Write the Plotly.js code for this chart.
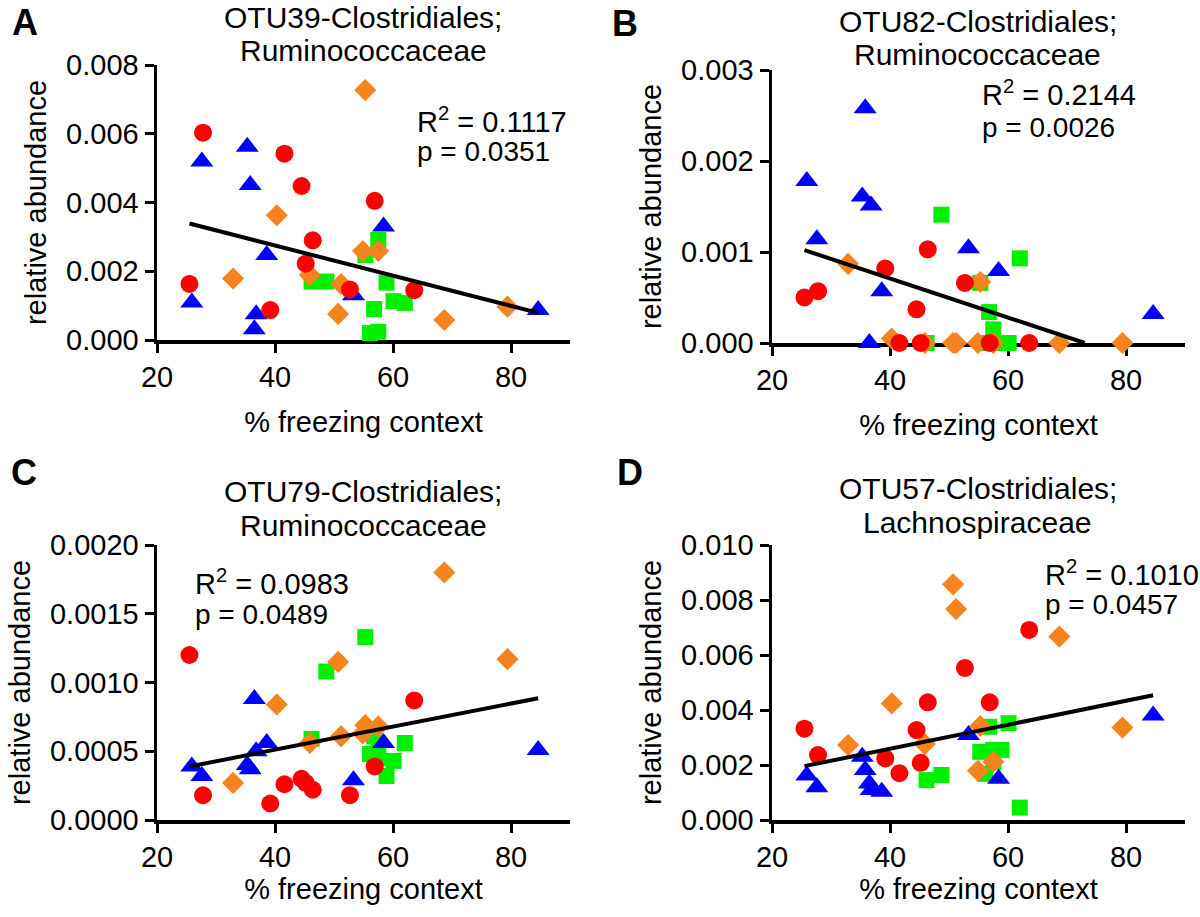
<!DOCTYPE html>
<html>
<head>
<meta charset="utf-8">
<script src="https://cdn.plot.ly/plotly-3.0.1.min.js"></script>
<style>
  html, body { margin: 0; padding: 0; background: #fff; }
  #chart { width: 1200px; height: 917px; }
</style>
</head>
<body>
<div id="chart"></div>
<script>
// % freezing context, one array per group (same mice in every panel)
const xRed = [25.5, 27.8, 39.2, 41.6, 44.5, 45.2, 46.4, 52.7, 56.9, 63.6];
const xBlue = [25.9, 27.6, 35.3, 35.8, 36.5, 36.8, 38.6, 53.3, 58.4, 84.6];
const xOrange = [32.9, 40.3, 45.9, 50.7, 51.2, 54.9, 55.3, 57.5, 68.7, 79.4];
const xGreen = [46.2, 48.7, 55.3, 56.1, 56.8, 57.5, 57.5, 58.9, 60.1, 62.0];

// relative abundance, panel A (OTU39)
const aRed = [0.00163, 0.00603, 0.00087, 0.00542, 0.00448, 0.00222, 0.00290, 0.00147, 0.00405, 0.00145];
const aBlue = [0.00109, 0.00519, 0.00562, 0.00451, 0.00031, 0.00075, 0.00247, 0.00130, 0.00330, 0.00087];
const aOrange = [0.00179, 0.00363, 0.00189, 0.00076, 0.00163, 0.00259, 0.00727, 0.00259, 0.00058, 0.00097];
const aGreen = [0.00170, 0.00170, 0.00247, 0.00020, 0.00090, 0.00291, 0.00024, 0.00167, 0.00113, 0.00108];

// panel B (OTU82)
const bRed = [0.00050, 0.00057, 0.00082, 0, 0.00037, 0, 0.00103, 0.00066, 0, 0];
const bBlue = [0.00178, 0.00114, 0.00161, 0.00258, 0, 0.00151, 0.00057, 0.00104, 0.00079, 0.00032];
const bOrange = [0.00087, 0.00005, 0, 0, 0, 0, 0.00067, 0, 0, 0];
const bGreen = [0, 0.00141, 0.00066, 0, 0.00034, 0.00015, 0, 0, 0, 0.00093];

// panel C (OTU79)
const cRed = [0.00120, 0.00018, 0.00012, 0.00026, 0.00030, 0.00027, 0.00022, 0.00018, 0.00039, 0.00087];
const cBlue = [0.00039, 0.00032, 0.00040, 0.00037, 0.00088, 0.00050, 0.00056, 0.00029, 0.00056, 0.00051];
const cOrange = [0.00027, 0.00084, 0.00056, 0.00115, 0.00061, 0.00063, 0.00069, 0.00068, 0.00180, 0.00117];
const cGreen = [0.00059, 0.00108, 0.00133, 0.00048, 0.00061, 0.00055, 0.00045, 0.00032, 0.00043, 0.00056];

// panel D (OTU57)
const dRed = [0.00332, 0.00236, 0.00224, 0.00170, 0.00327, 0.00208, 0.00428, 0.00553, 0.00428, 0.00691];
const dBlue = [0.00162, 0.00119, 0.00230, 0.00182, 0.00133, 0.00109, 0.00103, 0.00309, 0.00150, 0.00380];
const dOrange = [0.00273, 0.00424, 0.00276, 0.00857, 0.00767, 0.00179, 0.00342, 0.00212, 0.00667, 0.00336];
const dGreen = [0.00145, 0.00164, 0.00248, 0.00168, 0.00339, 0.00210, 0.00255, 0.00255, 0.00352, 0.00045];

const W = 1200, H = 917;
const px = x => x / W;
const py = y => 1 - y / H;
const FAMILY = 'Liberation Sans, Arial, sans-serif';
const FONT = {family: FAMILY, size: 29, color: '#000'};

const GROUPS = [
  {x: xGreen, key: 3, symbol: 'square', size: 16, color: '#00f000'},
  {x: xOrange, key: 2, symbol: 'diamond', size: 17, color: '#f7831f'},
  {x: xBlue, key: 1, symbol: 'triangle-up', size: 20, color: '#0000ff'},
  {x: xRed, key: 0, symbol: 'circle', size: 18, color: '#ff0000'},
];

const panels = [
  {letter: 'A', otu: 'OTU39-Clostridiales;', fam: 'Ruminococcaceae', ys: [aRed, aBlue, aOrange, aGreen],
   ymax: 0.008, dtick: 0.002, fmt: '.3f', r2: '0.1117', p: '0.0351', xStandoff: 20,
   box: [157, 570, 65, 340], titleX: 363, titleY: [18, 51], letterPos: [25, 22], stat: [415, 120, 152]},
  {letter: 'B', otu: 'OTU82-Clostridiales;', fam: 'Ruminococcaceae', ys: [bRed, bBlue, bOrange, bGreen],
   ymax: 0.003, dtick: 0.001, fmt: '.3f', r2: '0.2144', p: '0.0026', xStandoff: 20,
   box: [772, 1185, 70, 343], titleX: 978, titleY: [21, 54], letterPos: [625, 24], stat: [980, 93, 127]},
  {letter: 'C', otu: 'OTU79-Clostridiales;', fam: 'Ruminococcaceae', ys: [cRed, cBlue, cOrange, cGreen],
   ymax: 0.002, dtick: 0.0005, fmt: '.4f', r2: '0.0983', p: '0.0489', xStandoff: 4,
   box: [157, 570, 545, 820], titleX: 363, titleY: [491, 525], letterPos: [24, 472], stat: [193, 582, 614]},
  {letter: 'D', otu: 'OTU57-Clostridiales;', fam: 'Lachnospiraceae', ys: [dRed, dBlue, dOrange, dGreen],
   ymax: 0.010, dtick: 0.002, fmt: '.3f', r2: '0.1010', p: '0.0457', xStandoff: 4,
   box: [772, 1185, 545, 820], titleX: 978, titleY: [488, 522], letterPos: [630, 472], stat: [1043, 573, 604]},
];

function linearFit(xs, ys) {
  const n = xs.length;
  const mx = xs.reduce((a, b) => a + b) / n;
  const my = ys.reduce((a, b) => a + b) / n;
  let sxy = 0, sxx = 0;
  for (let i = 0; i < n; i++) {
    sxy += (xs[i] - mx) * (ys[i] - my);
    sxx += (xs[i] - mx) * (xs[i] - mx);
  }
  const slope = sxy / sxx;
  return {slope, intercept: my - slope * mx};
}

const traces = [];
const layout = {
  width: W, height: H,
  margin: {l: 0, r: 0, t: 0, b: 0},
  paper_bgcolor: '#fff', plot_bgcolor: '#fff',
  showlegend: false,
  font: FONT,
  annotations: [],
};

panels.forEach((pn, i) => {
  const n = i === 0 ? '' : String(i + 1);
  const xa = 'x' + n, ya = 'y' + n;
  GROUPS.forEach(g => {
    traces.push({
      x: g.x, y: pn.ys[g.key], xaxis: xa, yaxis: ya,
      type: 'scatter', mode: 'markers', cliponaxis: false, hoverinfo: 'x+y',
      marker: {symbol: g.symbol, size: g.size, color: g.color, line: {width: 0}},
    });
  });

  // least-squares line over all mice, clipped at y = 0 like the original
  const allX = [].concat(xRed, xBlue, xOrange, xGreen);
  const allY = [].concat(pn.ys[0], pn.ys[1], pn.ys[2], pn.ys[3]);
  const f = linearFit(allX, allY);
  const x0 = Math.min(...allX);
  let x1 = Math.max(...allX);
  if (f.intercept + f.slope * x1 < 0) x1 = -f.intercept / f.slope;
  traces.push({
    x: [x0, x1], y: [f.intercept + f.slope * x0, f.intercept + f.slope * x1],
    xaxis: xa, yaxis: ya, type: 'scatter', mode: 'lines', cliponaxis: false,
    line: {color: '#000', width: 4}, hoverinfo: 'skip',
  });

  const [l, r, t, b] = pn.box;
  layout['xaxis' + n] = {
    domain: [px(l), px(r)], anchor: ya, range: [20, 90], tickvals: [20, 40, 60, 80],
    ticks: 'outside', ticklen: 9, tickwidth: 3, tickcolor: '#000',
    showline: true, linewidth: 3.5, linecolor: '#000', showgrid: false, zeroline: false,
    tickfont: FONT, layer: 'below traces',
    title: {text: '% freezing context', font: FONT, standoff: pn.xStandoff},
  };
  layout['yaxis' + n] = {
    domain: [py(b), py(t)], anchor: xa, range: [0, pn.ymax], tick0: 0, dtick: pn.dtick,
    tickformat: pn.fmt, ticks: 'outside', ticklen: 9, tickwidth: 3, tickcolor: '#000',
    showline: true, linewidth: 3.5, linecolor: '#000', showgrid: false, zeroline: false,
    tickfont: FONT, layer: 'below traces',
    title: {text: 'relative abundance', font: FONT, standoff: 12},
  };

  const ann = (text, x, y, extra) => layout.annotations.push(Object.assign({
    text, xref: 'paper', yref: 'paper', x: px(x), y: py(y),
    showarrow: false, font: FONT, xanchor: 'center', yanchor: 'middle',
  }, extra || {}));
  ann(pn.otu, pn.titleX, pn.titleY[0], {font: {family: FAMILY, size: 30, color: '#000'}});
  ann(pn.fam, pn.titleX, pn.titleY[1], {font: {family: FAMILY, size: 30, color: '#000'}});
  ann('<b>' + pn.letter + '</b>', pn.letterPos[0], pn.letterPos[1],
      {font: {family: FAMILY, size: 36, color: '#000'}});
  ann('R<sup>2</sup> = ' + pn.r2, pn.stat[0], pn.stat[1],
      {xanchor: 'left', font: {family: FAMILY, size: 29, color: '#000'}});
  ann('p = ' + pn.p, pn.stat[0], pn.stat[2],
      {xanchor: 'left', font: {family: FAMILY, size: 28, color: '#000'}});
});

Plotly.newPlot('chart', traces, layout, {staticPlot: true});
</script>
</body>
</html>
